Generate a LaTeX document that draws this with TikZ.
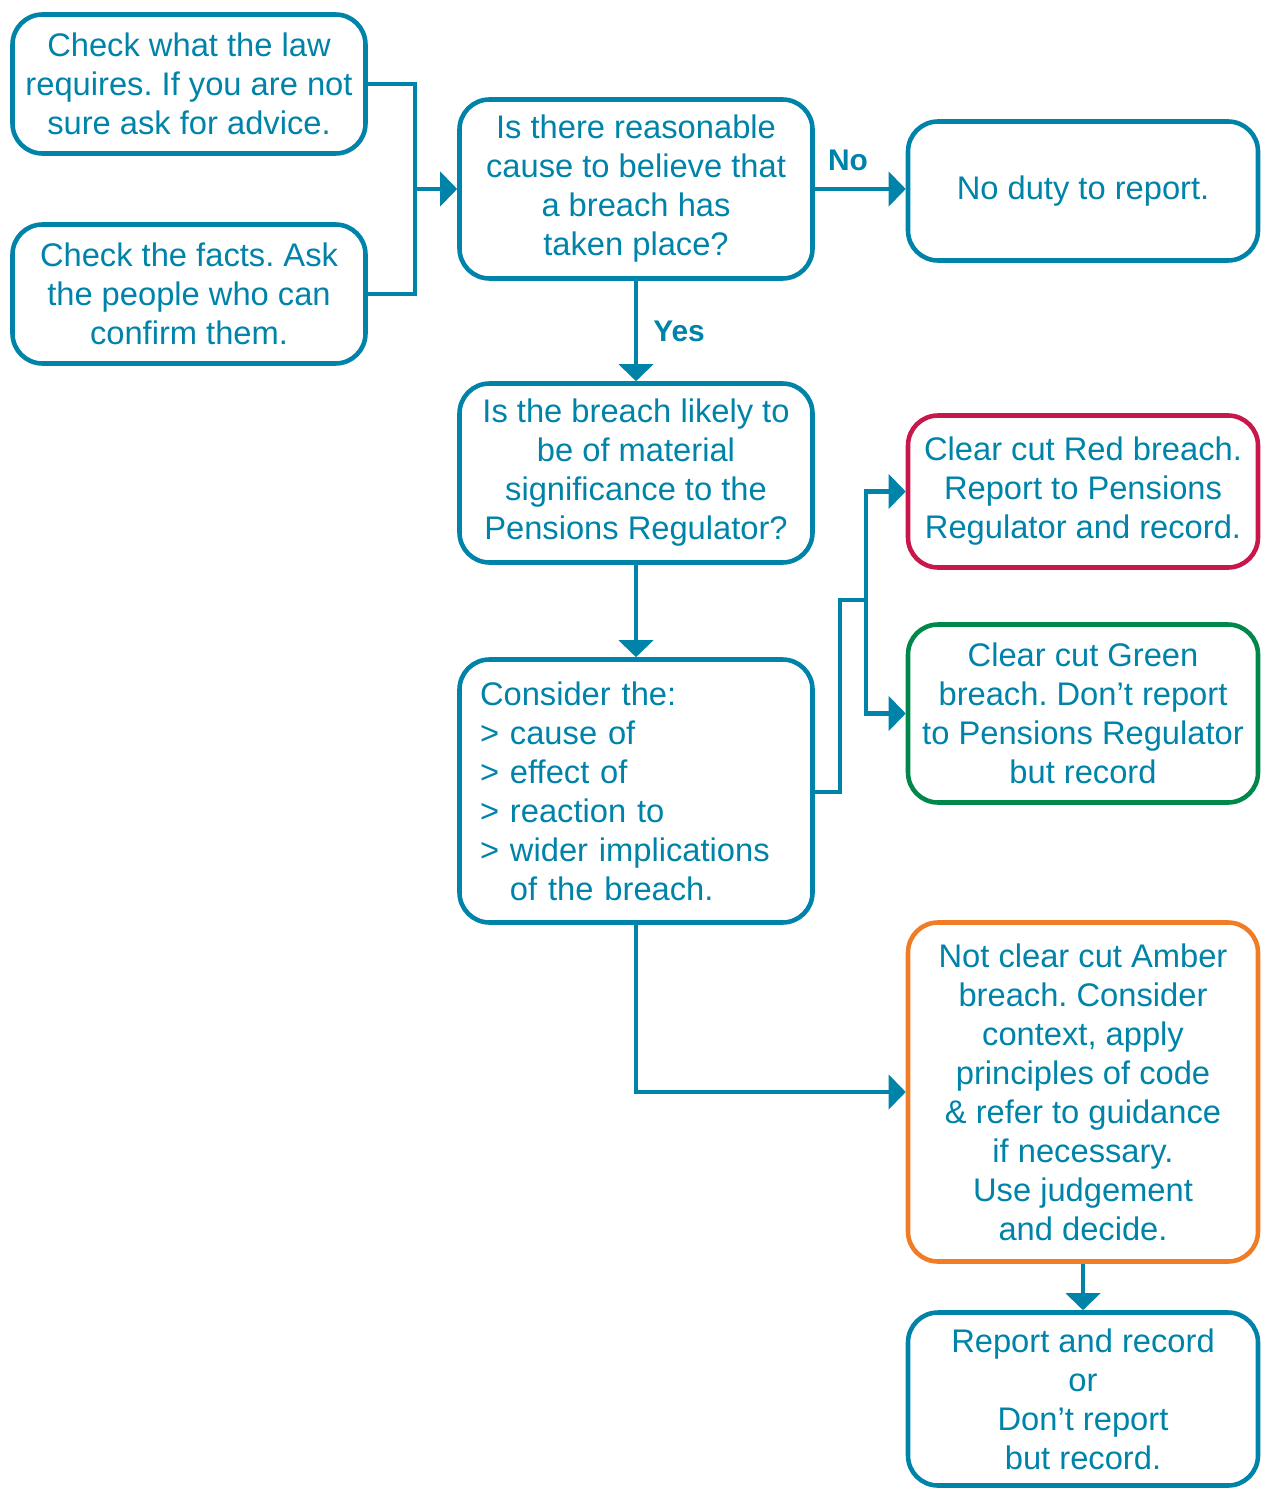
\documentclass[tikz,border=0pt]{standalone}
\usepackage{fontspec}
\setmainfont{Liberation Sans}
\usepackage{xcolor}
\usetikzlibrary{arrows.meta}
\frenchspacing

\definecolor{tprblue}{HTML}{0083A9}
\definecolor{tprred}{HTML}{C8174B}
\definecolor{tprgreen}{HTML}{00874A}
\definecolor{tpramber}{HTML}{F07D26}

\tikzset{
	box/.style={draw=tprblue, line width=2.6pt, rounded corners=0.6cm, text=tprblue,
		align=center, inner sep=0pt, minimum width=7.06cm,
		font=\fontsize{18.6}{22.2}\selectfont},
	sidebox/.style={box, minimum width=7.0cm},
	link/.style={draw=tprblue, line width=2.6pt},
	arrow/.style={link, -{Triangle[width=0.68cm,length=0.34cm]}},
	answer/.style={text=tprblue, font=\fontsize{17}{20}\selectfont\bfseries}
}

\begin{document}
\begin{tikzpicture}

	\useasboundingbox (0,0) rectangle (25.2,-29.8);

	\node[box, minimum height=2.78cm] (law) at (3.78,-1.68) {Check what the law\\requires. If you are not\\sure ask for advice.};
	\node[box, minimum height=2.78cm] (facts) at (3.78,-5.88) {Check the facts. Ask\\the people who can\\confirm them.};
	\node[box, minimum height=3.58cm] (cause) at (12.72,-3.78) {Is there reasonable\\cause to believe that\\a breach has\\taken place?};
	\node[sidebox, minimum height=2.78cm] (noduty) at (21.66,-3.82) {No duty to report.};
	\node[box, minimum height=3.58cm] (material) at (12.72,-9.46) {Is the breach likely to\\be of material\\significance to the\\Pensions Regulator?};
	\node[box, minimum height=5.26cm, text width=6.24cm, align=left] (consider) at (12.72,-15.82) {Consider the:\\>\ cause of\\>\ effect of\\>\ reaction to\\>\ wider implications\\\phantom{>}\ of the breach.};

	\node[sidebox, draw=tprred, minimum height=3.04cm] (red) at (21.66,-9.83) {Clear cut Red breach.\\Report to Pensions\\Regulator and record.};
	\node[sidebox, draw=tprgreen, minimum height=3.56cm] (green) at (21.66,-14.27) {Clear cut Green\\breach. Don’t report\\to Pensions Regulator\\but record};
	\node[sidebox, draw=tpramber, minimum height=6.78cm] (amber) at (21.66,-21.84) {Not clear cut Amber\\breach. Consider\\context, apply\\principles of code\\\& refer to guidance\\if necessary.\\Use judgement\\and decide.};
	\node[sidebox, minimum height=3.46cm] (report) at (21.66,-27.98) {Report and record\\or\\Don’t report\\but record.};

	\coordinate (join) at (8.3,-3.78);
	\draw[link] (law.east) -| (join |- facts.east) -- (facts.east);
	\draw[arrow] (join) -- (cause.west);

	\draw[arrow] (cause.east) -- (noduty.west |- cause.east);
	\node[answer] (no) at (16.96,-3.2) {No};

	\draw[arrow] (cause.south) -- (material.north);
	\node[answer] (yes) at (13.58,-6.62) {Yes};

	\draw[arrow] (material.south) -- (consider.north);

	\coordinate (split) at (17.32,-12.0);
	\draw[link] (consider.east |- 0,-15.84) -- (16.8,-15.84) |- (split);
	\draw[arrow] (split) |- (red.west);
	\draw[arrow] (split) |- (green.west);

	\draw[arrow] (consider.south) |- (amber.west);
	\draw[arrow] (amber.south) -- (report.north);

\end{tikzpicture}
\end{document}
